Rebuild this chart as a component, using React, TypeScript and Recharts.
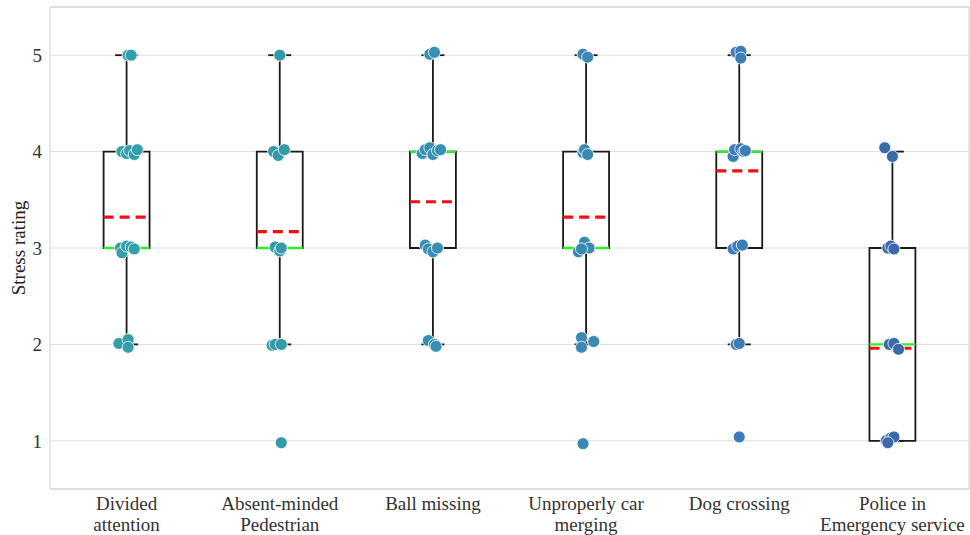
import React from 'react';
import {
  ComposedChart,
  Scatter,
  XAxis,
  YAxis,
  CartesianGrid,
  ReferenceLine,
  ReferenceArea,
} from 'recharts';

const categories = [
  ['Divided', 'attention'],
  ['Absent-minded', 'Pedestrian'],
  ['Ball missing'],
  ['Unproperly car', 'merging'],
  ['Dog crossing'],
  ['Police in', 'Emergency service'],
];

// box stats per scenario
const q1 = [3, 3, 3, 3, 3, 1];
const q3 = [4, 4, 4, 4, 4, 3];
const medians = [3, 3, 4, 3, 4, 2];
const means = [3.32, 3.17, 3.48, 3.32, 3.8, 1.96];
const whiskerLow = [2, 2, 2, 2, 2, 1];
const whiskerHigh = [5, 5, 5, 5, 5, 4];

// jittered ratings: [x jitter, rating]
const dividedPts = [
  [0.01, 5.0], [0.03, 5.0],
  [-0.03, 4.0], [0, 3.98], [0.02, 4.01], [0.05, 3.97], [0.07, 4.02],
  [-0.04, 3.0], [-0.03, 2.95], [0, 3.02], [0.03, 3.01], [0.05, 2.99],
  [-0.05, 2.01], [0.01, 2.05], [0.01, 1.97],
];
const absentPts = [
  [0, 5.0],
  [-0.04, 4.0], [-0.01, 3.96], [0.03, 4.02],
  [-0.03, 3.01], [0, 2.97], [0.01, 3.0],
  [-0.05, 1.99], [-0.03, 2.0], [0.01, 2.0],
  [0.01, 0.98],
];
const ballPts = [
  [-0.02, 5.01], [0.01, 5.03],
  [-0.07, 3.98], [-0.05, 4.02], [-0.02, 4.04], [0, 3.97], [0.03, 4.01], [0.05, 4.02],
  [-0.05, 3.03], [-0.03, 2.99], [0, 2.96], [0.03, 3.0],
  [-0.03, 2.04], [0.01, 2.0], [0.02, 1.98],
];
const mergingPts = [
  [-0.02, 5.01], [0.01, 4.98],
  [-0.02, 3.99], [-0.01, 4.02], [0.01, 3.97],
  [-0.05, 2.96], [-0.01, 3.06], [0.02, 3.0], [-0.03, 2.99],
  [-0.03, 2.07], [-0.03, 1.97], [0.05, 2.03],
  [-0.02, 0.97],
];
const dogPts = [
  [-0.02, 5.03], [0.01, 5.04], [0.01, 4.97],
  [-0.04, 3.95], [-0.03, 4.02], [0.01, 4.03], [0.03, 4.0], [0.04, 4.01],
  [-0.04, 2.99], [-0.01, 3.02], [0.02, 3.03],
  [-0.02, 2.0], [0, 2.01],
  [0, 1.04],
];
const policePts = [
  [-0.05, 4.04], [0, 3.95],
  [-0.03, 3.0], [-0.01, 3.02], [0.01, 2.99],
  [-0.02, 2.0], [0.01, 2.01], [0.04, 1.95],
  [-0.04, 1.0], [-0.01, 1.03], [0.01, 1.04], [-0.03, 0.98],
];

const pointSets = [dividedPts, absentPts, ballPts, mergingPts, dogPts, policePts];
const colors = ['#339fa8', '#349aa8', '#3790b2', '#3a89b2', '#3d7db5', '#3b6aab'];

const BOX_HALF = 0.15;
const CAP_HALF = 0.075;
const FONT = '"Liberation Serif", "Times New Roman", serif';

const CategoryTick = (props: any) => {
  const { x, y, payload } = props;
  const lines = categories[payload.value] || [];
  return (
    <text x={x} y={y} textAnchor="middle" fontFamily={FONT} fontSize={19} fill="#333">
      {lines.map((l, i) => (
        <tspan key={i} x={x} dy={21}>
          {l}
        </tspan>
      ))}
    </text>
  );
};

export default function App() {
  return (
    <div style={{ position: 'absolute', left: 0, top: 0 }}>
      <ComposedChart width={970} height={535} margin={{ top: 7, right: 1, bottom: 0, left: 0 }}>
        <CartesianGrid vertical={false} stroke="#dcdcdc" strokeWidth={1} />
        <ReferenceArea x1={-0.5} x2={5.5} y1={0.5} y2={5.5} fill="none" stroke="#cfcfcf" strokeWidth={1} />
        <XAxis
          type="number"
          dataKey="x"
          domain={[-0.5, 5.5]}
          ticks={[0, 1, 2, 3, 4, 5]}
          allowDataOverflow
          axisLine={false}
          tickLine={false}
          tickSize={0}
          tickMargin={0}
          height={46}
          tick={<CategoryTick />}
        />
        <YAxis
          type="number"
          dataKey="y"
          domain={[0.5, 5.5]}
          ticks={[1, 2, 3, 4, 5]}
          allowDataOverflow
          axisLine={false}
          tickLine={false}
          tickSize={0}
          tickMargin={8}
          width={50}
          tick={{ fontFamily: FONT, fontSize: 19, fill: '#333' }}
          label={{
            value: 'Stress rating',
            angle: -90,
            position: 'insideLeft',
            offset: 18,
            style: { fontFamily: FONT, fontSize: 19, fill: '#222', textAnchor: 'middle' },
          }}
        />
        {pointSets.map((pts, i) => (
          <Scatter
            key={'s' + i}
            data={pts.map(([dx, y]) => ({ x: i + dx, y }))}
            fill={colors[i]}
            isAnimationActive={false}
            shape={(p: any) => (
              <circle cx={p.cx} cy={p.cy} r={6} fill={colors[i]} stroke="#ffffff" strokeWidth={0.8} />
            )}
          />
        ))}
        {categories.map((_, i) => (
          <ReferenceArea
            key={'b' + i}
            x1={i - BOX_HALF}
            x2={i + BOX_HALF}
            y1={q1[i]}
            y2={q3[i]}
            fill="none"
            fillOpacity={0}
            stroke="#1a1a1a"
            strokeWidth={1.8}
          />
        ))}
        {categories.map((_, i) => (
          <ReferenceLine key={'wh' + i} segment={[{ x: i, y: q3[i] }, { x: i, y: whiskerHigh[i] }]} stroke="#1a1a1a" strokeWidth={1.8} />
        ))}
        {categories.map((_, i) => (
          <ReferenceLine key={'wl' + i} segment={[{ x: i, y: whiskerLow[i] }, { x: i, y: q1[i] }]} stroke="#1a1a1a" strokeWidth={1.8} />
        ))}
        {categories.map((_, i) => (
          <ReferenceLine
            key={'ch' + i}
            segment={[{ x: i - CAP_HALF, y: whiskerHigh[i] }, { x: i + CAP_HALF, y: whiskerHigh[i] }]}
            stroke="#1a1a1a"
            strokeWidth={1.8}
          />
        ))}
        {categories.map((_, i) => (
          <ReferenceLine
            key={'cl' + i}
            segment={[{ x: i - CAP_HALF, y: whiskerLow[i] }, { x: i + CAP_HALF, y: whiskerLow[i] }]}
            stroke="#1a1a1a"
            strokeWidth={1.8}
          />
        ))}
        {categories.map((_, i) => (
          <ReferenceLine
            key={'md' + i}
            segment={[{ x: i - BOX_HALF, y: medians[i] }, { x: i + BOX_HALF, y: medians[i] }]}
            stroke="#2cee2c"
            strokeWidth={2.4}
          />
        ))}
        {categories.map((_, i) => (
          <ReferenceLine
            key={'mn' + i}
            segment={[{ x: i - BOX_HALF, y: means[i] }, { x: i + BOX_HALF, y: means[i] }]}
            stroke="#ee1111"
            strokeWidth={3.2}
            strokeDasharray="10 6"
          />
        ))}
      </ComposedChart>
    </div>
  );
}
